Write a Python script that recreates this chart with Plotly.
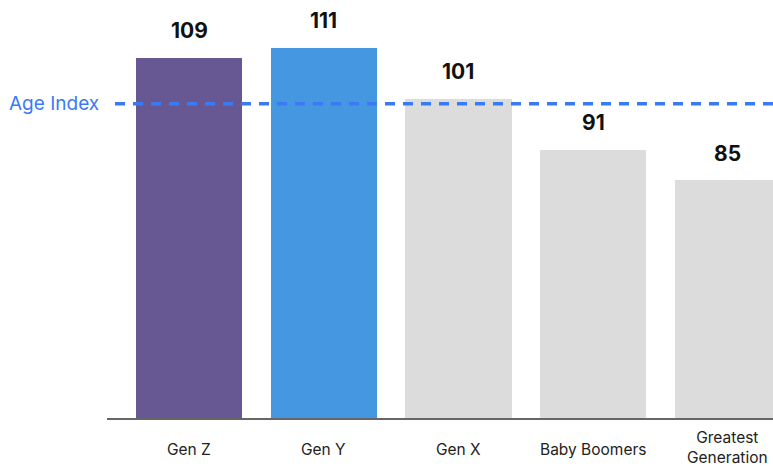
import plotly.graph_objects as go

categories = ["Gen Z", "Gen Y", "Gen X", "Baby Boomers", "Greatest<br>Generation"]
values = [109, 111, 101, 91, 85]
bar_colors = ["#675893", "#4597E1", "#DCDCDC", "#DCDCDC", "#DCDCDC"]
age_index = 100
age_index_label = "Age Index"

x_pos = list(range(len(categories)))

fig = go.Figure()
fig.add_trace(go.Bar(
    x=x_pos, y=values, base=0,
    marker=dict(color=bar_colors, line=dict(width=0)),
    width=0.787, hoverinfo="skip", showlegend=False,
))

annotations = []
for i, v in zip(x_pos, values):
    annotations.append(dict(
        x=i, y=v, xref="x", yref="y", text=str(v), showarrow=False,
        yanchor="middle", yshift=27,
        font=dict(family="Inter, Arial", size=21, color="#111111", weight="bold"),
    ))
for i, c in zip(x_pos, categories):
    two_line = "<br>" in c
    annotations.append(dict(
        x=i, y=0, xref="x", yref="paper", text=c, showarrow=False,
        yanchor="middle", yshift=-29 if two_line else -31,
        font=dict(family="Inter, Arial", size=15.5, color="#222222"),
    ))
annotations.append(dict(
    x=0, y=age_index, xref="paper", yref="y", text=age_index_label, showarrow=False,
    xanchor="right", yanchor="middle", xshift=-6,
    font=dict(family="Inter, Arial", size=19, color="#3A7AF5"),
))

fig.add_shape(
    type="line", xref="paper", yref="y",
    x0=0.012, x1=1.0, y0=age_index, y1=age_index,
    line=dict(color="#3A7AF5", width=3.5, dash="10px,8px"),
    layer="above",
)

fig.update_layout(
    width=773, height=466,
    margin=dict(l=107, r=0, t=0, b=48, pad=0),
    paper_bgcolor="white", plot_bgcolor="white",
    xaxis=dict(range=[-0.6085, 4.334], showticklabels=False, showgrid=False,
               zeroline=False, showline=True, linecolor="#666666", linewidth=2,
               ticks=""),
    yaxis=dict(range=[38.2, 120.4], visible=False, showgrid=False, zeroline=False),
    annotations=annotations,
    bargap=0,
)

fig.write_html(
    "out.html",
    config={"displayModeBar": False},
    post_script="document.body.style.margin='0';document.body.style.overflow='hidden';",
)
